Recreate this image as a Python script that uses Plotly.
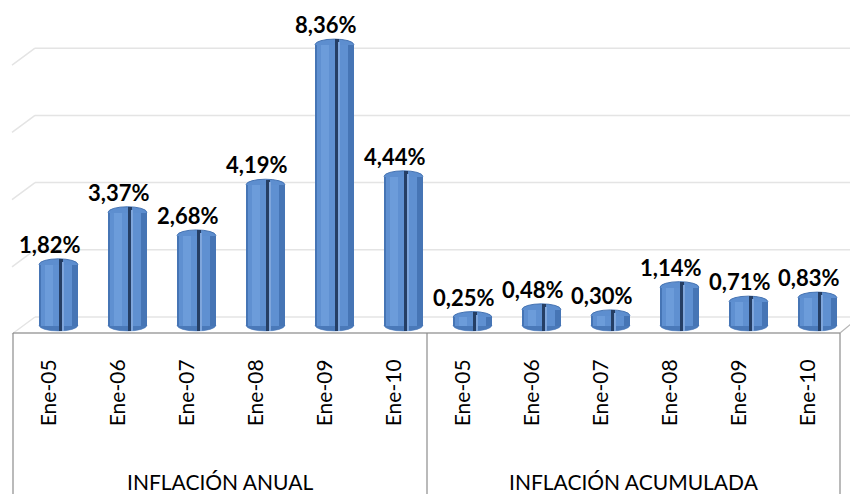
import plotly.graph_objects as go

# ---------------- data ----------------
groups = ["INFLACIÓN ANUAL", "INFLACIÓN ACUMULADA"]
periods = ["Ene-05", "Ene-06", "Ene-07", "Ene-08", "Ene-09", "Ene-10"]
anual = [1.82, 3.37, 2.68, 4.19, 8.36, 4.44]
acumulada = [0.25, 0.48, 0.30, 1.14, 0.71, 0.83]
grid_values = [0, 2, 4, 6, 8]

values = anual + acumulada
tick_labels = periods + periods
xs = list(range(len(values)))
labels = [f"{v:.2f}%".replace(".", ",") for v in values]

# ---------------- geometry (pixels of the 858x494 window) ----------------
OX, OY = 8, 8                # page body margin of the html file
W, H = 858 - OX, 494 - OY    # figure size
Z = 325.5          # pixel of value 0 for the bars
S = 33.6           # pixels per 1 %
YMIN, YMAX = -0.4, 9.4
GRID_DY = 8.5      # back wall is a bit higher than the bars' base
DX = 0.13          # bars sit a bit right of the front labels (3D depth)
BW = 0.56          # cylinder width
HC = 5.5 / S       # half-height of the elliptic caps


def px(x):
    return (x - OX) / W


def py(y):
    return 1 - (y - OY) / H


ydom = [py(Z - YMIN * S), min(1.0, py(Z - YMAX * S))]
xdom = [px(15), px(843)]

fig = go.Figure()

# cylinder body (darker edges)
fig.add_trace(go.Bar(
    x=xs, y=values, width=BW, offset=DX - BW / 2,
    marker=dict(color="#4675B5", line=dict(width=0)),
    hoverinfo="skip", showlegend=False,
))
# lighter inner body
fig.add_trace(go.Bar(
    x=xs, y=values, width=BW * 0.78, offset=DX - BW / 2 + BW * 0.06,
    marker=dict(color="#5F90D1", line=dict(width=0)),
    hoverinfo="skip", showlegend=False,
))
# highlight on the left
fig.add_trace(go.Bar(
    x=xs, y=values, width=BW * 0.22, offset=DX - BW / 2 + BW * 0.14,
    marker=dict(color="#6C9CDA", line=dict(width=0)),
    hoverinfo="skip", showlegend=False,
))
# dark vertical stripe (reaching into the top cap)
fig.add_trace(go.Bar(
    x=xs, y=[v + 2 * HC for v in values], base=[-HC] * len(values),
    width=BW * 0.09, offset=DX + BW * 0.02,
    marker=dict(color="#253E64", line=dict(width=0)),
    hoverinfo="skip", showlegend=False,
))
# thin light line right of the stripe
fig.add_trace(go.Bar(
    x=xs, y=[v + 1.5 * HC for v in values], base=[-HC] * len(values),
    width=BW * 0.035, offset=DX + BW * 0.11,
    marker=dict(color="#7FA6DC", line=dict(width=0)),
    hoverinfo="skip", showlegend=False,
))

shapes = []
# back wall gridlines + left side-wall diagonals
for g in grid_values:
    gy = g + GRID_DY / S
    shapes.append(dict(type="line", xref="paper", yref="y", layer="below",
                       x0=px(35), x1=1.0, y0=gy, y1=gy,
                       line=dict(color="#E4E4E4", width=1.5)))
    shapes.append(dict(type="line", xref="paper", yref="y", layer="below",
                       x0=px(12), x1=px(35), y0=gy - 17 / S, y1=gy,
                       line=dict(color="#E4E4E4", width=1.5)))

# cylinder caps (top and bottom ellipses)
for x, v in zip(xs, values):
    x0 = x + DX - BW / 2
    x1 = x + DX + BW / 2
    shapes.append(dict(type="circle", xref="x", yref="y", layer="below",
                       x0=x0, x1=x1, y0=-HC, y1=HC,
                       fillcolor="#4A79B9", line=dict(color="#4A79B9", width=0.5)))
    shapes.append(dict(type="circle", xref="x", yref="y", layer="below",
                       x0=x0, x1=x1, y0=v - HC, y1=v + HC,
                       fillcolor="#5D8ECF", line=dict(color="#4573B2", width=1)))

# floor front edge, right side edge and category box
floor_y = py(333)
shapes.append(dict(type="line", xref="paper", yref="paper", x0=px(13), x1=px(840),
                   y0=floor_y, y1=floor_y, line=dict(color="#A0A0A0", width=1.3)))
shapes.append(dict(type="line", xref="paper", yref="paper", x0=px(840), x1=1.0,
                   y0=floor_y, y1=py(318), line=dict(color="#B5B5B5", width=1.2)))
for xv in (13, 427, 840):
    shapes.append(dict(type="line", xref="paper", yref="paper", x0=px(xv), x1=px(xv),
                       y0=floor_y, y1=0, line=dict(color="#8C8C8C", width=1.2)))

annotations = []
for x, v, t in zip(xs, values, labels):
    annotations.append(dict(x=x, y=v, xref="x", yref="y", text=t, showarrow=False,
                            yanchor="bottom", xanchor="center", yshift=HC * S - 1,
                            font=dict(family="Lato, Carlito, sans-serif", size=22,
                                      color="#000000", weight="bold")))
group_centers = [220, 634]
for gname, gc in zip(groups, group_centers):
    annotations.append(dict(x=px(gc), y=0, xref="paper", yref="paper", text=gname,
                            showarrow=False, xanchor="center", yanchor="bottom",
                            yshift=-2,
                            font=dict(family="Lato, Carlito, sans-serif", size=21,
                                      color="#000000")))

fig.update_layout(
    width=W, height=H,
    margin=dict(l=0, r=0, t=0, b=0),
    paper_bgcolor="#FFFFFF", plot_bgcolor="rgba(0,0,0,0)",
    barmode="overlay", bargap=0,
    showlegend=False,
    shapes=shapes, annotations=annotations,
    xaxis=dict(domain=xdom, range=[-0.5, len(values) - 0.5],
               tickmode="array", tickvals=xs, ticktext=tick_labels,
               tickangle=-90, anchor="free", position=py(336),
               showline=False, showgrid=False, zeroline=False,
               ticks="outside", ticklen=14, tickcolor="rgba(0,0,0,0)",
               tickfont=dict(family="Lato, Carlito, sans-serif", size=21, color="#000000")),
    yaxis=dict(domain=ydom, range=[YMIN, YMAX], visible=False,
               showgrid=False, zeroline=False),
)

fig.write_html("out.html")
